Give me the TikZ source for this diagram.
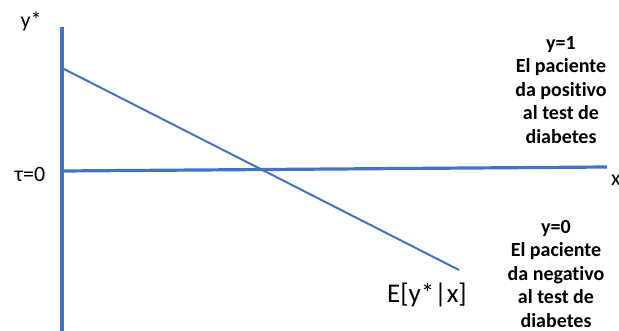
\documentclass[tikz,border=0pt]{standalone}
\usepackage{fontspec}
\setmainfont{Carlito}[RawFeature={-liga}]
\definecolor{axisblue}{RGB}{68,114,196}
\usepackage{tikz}
\usetikzlibrary{positioning}

\begin{document}
\begin{tikzpicture}[x=1pt,y=-1pt,
    axis/.style={axisblue, line width=3.2pt},
    trend/.style={axisblue, line width=2pt},
    lbl/.style={font=\fontsize{22}{24}\selectfont, inner sep=0pt},
    outcome/.style={font=\fontsize{20}{23.5}\selectfont\bfseries, align=center, inner sep=0pt}]
  \useasboundingbox (0,0) rectangle (619,331);

  % Axes
  \coordinate (ytop) at (62,27);
  \coordinate (ybot) at (62,331);
  \coordinate (xleft) at (62,171);
  \coordinate (xright) at (607,167);
  \draw[axis] (ytop) -- (ybot);
  \draw[axis] (xleft) -- (xright);

  % Expected value line
  \coordinate (ehigh) at (62,68);
  \coordinate (elow) at (459,270);
  \draw[trend] (ehigh) -- (elow);

  % Axis labels
  \node[lbl] (ystar) at (31,21) {y*};
  \node[lbl] (tau) at (30,174) {τ=0};
  \node[lbl, anchor=west] (xlab) at (611,180) {x};
  \node[lbl, font=\fontsize{27}{30}\selectfont] (expect) at (427,295) {E[y*|x]};

  % Outcomes
  \node[outcome] (pos) at (561,90) {y=1\\El paciente\\da positivo\\al test de\\diabetes};
  \node[outcome] (neg) at (556,274) {y=0\\El paciente\\da negativo\\al test de\\diabetes};
\end{tikzpicture}
\end{document}
